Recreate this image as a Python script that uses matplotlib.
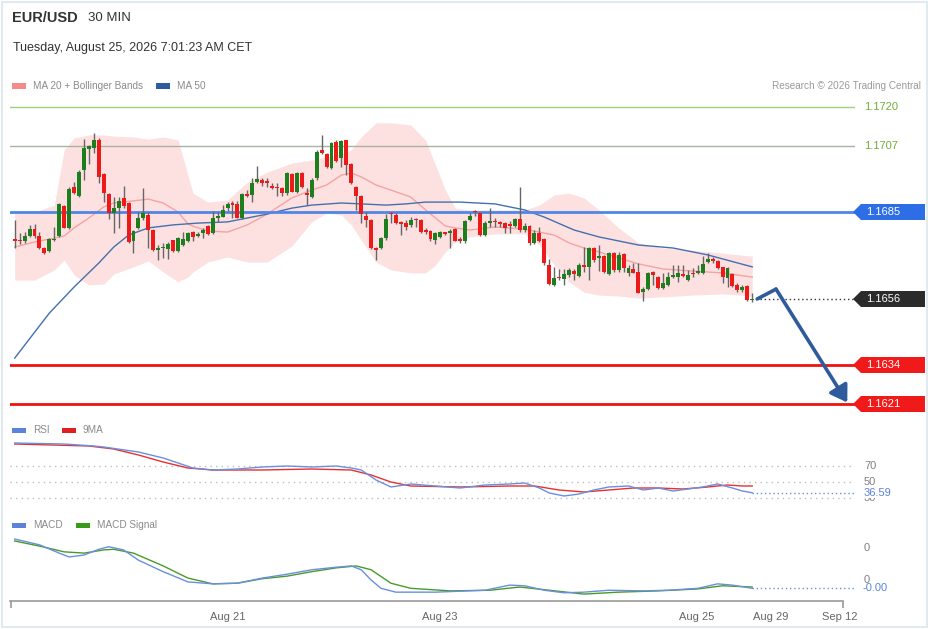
import matplotlib
matplotlib.use('Agg')
import matplotlib.pyplot as plt
from matplotlib.patches import Polygon, Rectangle, FancyArrowPatch
from matplotlib import transforms
import numpy as np

plt.rcParams['font.family'] = ['Liberation Sans', 'DejaVu Sans']

# ---------------- data ----------------
opens = [1.16760, 1.16757, 1.16753, 1.16770, 1.16793, 1.16770, 1.16730, 1.16720, 1.16757, 1.16770,
         1.16870, 1.16797, 1.16933, 1.16903, 1.16990, 1.17060, 1.17063, 1.17090, 1.16977, 1.16910,
         1.16847, 1.16863, 1.16897, 1.16880, 1.16753, 1.16797, 1.16830, 1.16840, 1.16790, 1.16723,
         1.16730, 1.16727, 1.16757, 1.16720, 1.16740, 1.16753, 1.16783, 1.16770, 1.16780, 1.16803,
         1.16780, 1.16830, 1.16833, 1.16863, 1.16880, 1.16877, 1.16830, 1.16910, 1.16907, 1.16950,
         1.16957, 1.16953, 1.16937, 1.16933, 1.16930, 1.16913, 1.16977, 1.16917, 1.16980, 1.16913,
         1.16900, 1.16963, 1.17057, 1.17043, 1.16997, 1.17083, 1.17030, 1.17090, 1.17010, 1.16933,
         1.16903, 1.16837, 1.16823, 1.16730, 1.16730, 1.16763, 1.16847, 1.16840, 1.16817, 1.16813,
         1.16807, 1.16827, 1.16823, 1.16790, 1.16787, 1.16757, 1.16767, 1.16783, 1.16780, 1.16793,
         1.16760, 1.16753, 1.16823, 1.16853, 1.16847, 1.16773, 1.16813, 1.16820, 1.16817, 1.16813,
         1.16810, 1.16803, 1.16827, 1.16790, 1.16803, 1.16747, 1.16780, 1.16760, 1.16673, 1.16607,
         1.16633, 1.16627, 1.16640, 1.16653, 1.16637, 1.16673, 1.16667, 1.16730, 1.16697, 1.16703,
         1.16643, 1.16713, 1.16657, 1.16710, 1.16647, 1.16660, 1.16650, 1.16583, 1.16593, 1.16650,
         1.16633, 1.16597, 1.16607, 1.16633, 1.16633, 1.16643, 1.16623, 1.16647, 1.16647, 1.16647,
         1.16683, 1.16693, 1.16687, 1.16667, 1.16630, 1.16643, 1.16607, 1.16590, 1.16603, 1.16557]
highs = [1.16823, 1.16780, 1.16783, 1.16807, 1.16810, 1.16783, 1.16733, 1.16763, 1.16800, 1.16880,
         1.16873, 1.16933, 1.16950, 1.16990, 1.17093, 1.17073, 1.17113, 1.17097, 1.16980, 1.16913,
         1.16900, 1.16900, 1.16937, 1.16883, 1.16790, 1.16850, 1.16930, 1.16850, 1.16793, 1.16740,
         1.16747, 1.16750, 1.16757, 1.16767, 1.16783, 1.16783, 1.16787, 1.16783, 1.16797, 1.16807,
         1.16853, 1.16850, 1.16873, 1.16883, 1.16887, 1.16887, 1.16913, 1.16923, 1.16963, 1.17003,
         1.16963, 1.16963, 1.16947, 1.16947, 1.16933, 1.16983, 1.16980, 1.16983, 1.16983, 1.16930,
         1.16963, 1.17057, 1.17107, 1.17047, 1.17083, 1.17090, 1.17090, 1.17090, 1.17013, 1.16937,
         1.16907, 1.16850, 1.16827, 1.16733, 1.16767, 1.16843, 1.16850, 1.16847, 1.16820, 1.16823,
         1.16833, 1.16830, 1.16827, 1.16797, 1.16790, 1.16783, 1.16787, 1.16783, 1.16793, 1.16797,
         1.16767, 1.16823, 1.16847, 1.16857, 1.16850, 1.16820, 1.16863, 1.16830, 1.16820, 1.16817,
         1.16820, 1.16830, 1.16933, 1.16813, 1.16807, 1.16790, 1.16800, 1.16763, 1.16693, 1.16667,
         1.16660, 1.16660, 1.16663, 1.16660, 1.16680, 1.16733, 1.16733, 1.16733, 1.16740, 1.16707,
         1.16717, 1.16717, 1.16717, 1.16713, 1.16673, 1.16680, 1.16680, 1.16600, 1.16650, 1.16653,
         1.16637, 1.16647, 1.16650, 1.16673, 1.16673, 1.16673, 1.16657, 1.16663, 1.16673, 1.16703,
         1.16713, 1.16700, 1.16690, 1.16667, 1.16667, 1.16647, 1.16613, 1.16607, 1.16607, 1.16580]
lows = [1.16730, 1.16743, 1.16747, 1.16767, 1.16763, 1.16727, 1.16710, 1.16717, 1.16753, 1.16767,
        1.16797, 1.16793, 1.16910, 1.16900, 1.16957, 1.17010, 1.17047, 1.16947, 1.16883, 1.16827,
        1.16780, 1.16797, 1.16863, 1.16747, 1.16713, 1.16793, 1.16823, 1.16730, 1.16720, 1.16690,
        1.16697, 1.16693, 1.16717, 1.16717, 1.16737, 1.16750, 1.16753, 1.16767, 1.16763, 1.16773,
        1.16777, 1.16817, 1.16833, 1.16853, 1.16830, 1.16830, 1.16827, 1.16900, 1.16883, 1.16947,
        1.16937, 1.16933, 1.16927, 1.16903, 1.16903, 1.16907, 1.16917, 1.16913, 1.16930, 1.16873,
        1.16897, 1.16957, 1.17043, 1.16997, 1.16993, 1.17017, 1.17000, 1.16973, 1.16943, 1.16857,
        1.16813, 1.16800, 1.16727, 1.16690, 1.16727, 1.16757, 1.16813, 1.16810, 1.16773, 1.16790,
        1.16800, 1.16800, 1.16780, 1.16777, 1.16753, 1.16743, 1.16763, 1.16773, 1.16730, 1.16753,
        1.16747, 1.16747, 1.16820, 1.16837, 1.16770, 1.16770, 1.16800, 1.16800, 1.16800, 1.16780,
        1.16780, 1.16800, 1.16783, 1.16783, 1.16740, 1.16743, 1.16750, 1.16673, 1.16607, 1.16603,
        1.16623, 1.16607, 1.16633, 1.16623, 1.16633, 1.16650, 1.16623, 1.16683, 1.16653, 1.16647,
        1.16640, 1.16650, 1.16650, 1.16650, 1.16637, 1.16647, 1.16580, 1.16553, 1.16590, 1.16607,
        1.16593, 1.16593, 1.16603, 1.16630, 1.16617, 1.16633, 1.16620, 1.16633, 1.16643, 1.16643,
        1.16680, 1.16680, 1.16660, 1.16613, 1.16600, 1.16600, 1.16583, 1.16583, 1.16553, 1.16550]
closes = [1.16753, 1.16753, 1.16770, 1.16793, 1.16770, 1.16730, 1.16713, 1.16760, 1.16760, 1.16877,
          1.16797, 1.16927, 1.16913, 1.16983, 1.17063, 1.17070, 1.17090, 1.16967, 1.16913, 1.16847,
          1.16863, 1.16887, 1.16870, 1.16750, 1.16787, 1.16830, 1.16847, 1.16790, 1.16723, 1.16730,
          1.16733, 1.16743, 1.16720, 1.16763, 1.16760, 1.16780, 1.16767, 1.16777, 1.16790, 1.16777,
          1.16830, 1.16837, 1.16857, 1.16877, 1.16873, 1.16830, 1.16910, 1.16903, 1.16947, 1.16960,
          1.16947, 1.16947, 1.16930, 1.16930, 1.16913, 1.16980, 1.16917, 1.16980, 1.16933, 1.16907,
          1.16957, 1.17050, 1.17047, 1.17000, 1.17080, 1.17020, 1.17087, 1.17007, 1.16947, 1.16903,
          1.16843, 1.16823, 1.16730, 1.16723, 1.16763, 1.16827, 1.16843, 1.16813, 1.16810, 1.16800,
          1.16823, 1.16823, 1.16783, 1.16783, 1.16760, 1.16780, 1.16783, 1.16777, 1.16787, 1.16753,
          1.16753, 1.16820, 1.16837, 1.16850, 1.16773, 1.16813, 1.16820, 1.16817, 1.16810, 1.16797,
          1.16803, 1.16827, 1.16790, 1.16803, 1.16747, 1.16780, 1.16753, 1.16680, 1.16610, 1.16630,
          1.16630, 1.16643, 1.16657, 1.16643, 1.16673, 1.16667, 1.16730, 1.16690, 1.16703, 1.16650,
          1.16713, 1.16657, 1.16707, 1.16663, 1.16663, 1.16647, 1.16580, 1.16593, 1.16647, 1.16640,
          1.16597, 1.16613, 1.16633, 1.16640, 1.16647, 1.16637, 1.16640, 1.16643, 1.16653, 1.16677,
          1.16693, 1.16687, 1.16663, 1.16633, 1.16663, 1.16603, 1.16590, 1.16600, 1.16557, 1.16560]

# Bollinger (20) band and MA 20
bb_idx = [0, 4, 8, 10, 12, 15, 18, 20, 24, 27, 30, 33, 35, 36, 39, 43, 47, 51, 56, 60, 63, 66, 68,
          70, 73, 76, 80, 83, 85, 87, 89, 92, 97, 103, 106, 109, 112, 115, 118, 122, 126, 131, 137,
          143, 149]
bb_upper = [1.16847, 1.16850, 1.16873, 1.17057, 1.17097, 1.17107, 1.17107, 1.17103, 1.17100, 1.17093,
            1.17100, 1.17090, 1.16973, 1.16913, 1.16883, 1.16890, 1.16950, 1.16983, 1.17013, 1.17023,
            1.17033, 1.17047, 1.17057, 1.17100, 1.17147, 1.17147, 1.17140, 1.17090, 1.17007, 1.16923,
            1.16863, 1.16857, 1.16857, 1.16857, 1.16873, 1.16907, 1.16913, 1.16897, 1.16857, 1.16797,
            1.16747, 1.16730, 1.16723, 1.16713, 1.16703]
bb_lower = [1.16623, 1.16623, 1.16657, 1.16690, 1.16640, 1.16607, 1.16610, 1.16643, 1.16667, 1.16687,
            1.16650, 1.16617, 1.16633, 1.16650, 1.16683, 1.16700, 1.16683, 1.16683, 1.16737, 1.16817,
            1.16847, 1.16840, 1.16807, 1.16757, 1.16683, 1.16657, 1.16647, 1.16647, 1.16673, 1.16717,
            1.16750, 1.16767, 1.16777, 1.16777, 1.16740, 1.16673, 1.16617, 1.16583, 1.16573, 1.16570,
            1.16563, 1.16567, 1.16573, 1.16577, 1.16570]
ma20 = [1.16733, 1.16750, 1.16763, 1.16770, 1.16797, 1.16830, 1.16867, 1.16880, 1.16887, 1.16893,
        1.16880, 1.16850, 1.16810, 1.16803, 1.16787, 1.16783, 1.16807, 1.16843, 1.16897, 1.16923,
        1.16940, 1.16973, 1.16980, 1.16967, 1.16940, 1.16923, 1.16900, 1.16857, 1.16830, 1.16803,
        1.16797, 1.16790, 1.16800, 1.16793, 1.16783, 1.16773, 1.16747, 1.16730, 1.16717, 1.16697,
        1.16677, 1.16660, 1.16653, 1.16647, 1.16633]

ma50_idx = [0, 7, 12, 17, 20, 23, 27, 32, 37, 43, 47, 51, 56, 60, 66, 70, 75, 79, 83, 90, 97, 103,
            107, 113, 118, 126, 133, 140, 149]
ma50 = [1.16363, 1.16513, 1.16600, 1.16680, 1.16733, 1.16773, 1.16797, 1.16807, 1.16813, 1.16817,
        1.16830, 1.16843, 1.16863, 1.16873, 1.16880, 1.16877, 1.16873, 1.16877, 1.16883, 1.16883,
        1.16877, 1.16857, 1.16833, 1.16790, 1.16767, 1.16740, 1.16730, 1.16707, 1.16667]

rsi_idx = [0, 10, 16, 18, 25, 30, 33, 36, 40, 45, 50, 55, 60, 65, 68, 70, 73, 76, 80, 85, 90, 95,
           100, 103, 106, 108, 111, 114, 117, 120, 124, 127, 130, 133, 136, 139, 142, 145, 147, 149]
rsi = [98.75, 97.5, 95, 93.75, 87.5, 80, 73.75, 67.5, 65, 66.25, 68.75, 70, 68.75, 70, 67.5, 65,
       52.5, 43.75, 47.5, 45, 42.5, 46.25, 47.5, 48.75, 42.5, 36.25, 32.5, 35, 40, 43.75, 45, 40,
       42.5, 38.75, 41.25, 43.75, 47.5, 42.5, 38.75, 36.59]
rsi_ma_idx = [0, 15, 20, 25, 30, 35, 40, 50, 60, 68, 72, 76, 80, 90, 100, 105, 110, 115, 120, 125,
              130, 135, 140, 144, 147, 149]
rsi_ma = [97.5, 95, 91.25, 83.75, 75, 67.5, 65, 65, 66.25, 65, 58.75, 50, 45, 43.75, 45, 45, 40,
          37.5, 40, 42.5, 42.5, 41.25, 43.75, 46.25, 45, 45]

macd_idx = [0, 5, 9, 11, 14, 17, 19, 22, 25, 30, 35, 40, 45, 50, 55, 60, 65, 68, 70, 72, 74, 77,
            85, 95, 100, 103, 107, 111, 115, 120, 127, 132, 138, 142, 145, 149]
macd = [0.00064, 0.00055, 0.00042, 0.00036, 0.00039, 0.00048, 0.00052, 0.00047, 0.00031, 0.00013,
        -0.00003, -0.00006, -0.00005, 0.00003, 0.00009, 0.00016, 0.00020, 0.00022, 0.00016, 0.0,
        -0.00013, -0.00019, -0.00019, -0.00016, -0.00008, -0.00009, -0.00016, -0.00020, -0.00019,
        -0.00016, -0.00017, -0.00016, -0.00013, -0.00006, -0.00008, -0.00013]
signal_idx = [0, 5, 10, 14, 18, 20, 24, 30, 35, 40, 45, 50, 55, 60, 65, 69, 72, 76, 80, 88, 96,
              102, 108, 115, 122, 130, 138, 143, 149]
signal = [0.00061, 0.00053, 0.00044, 0.00042, 0.00047, 0.00048, 0.00042, 0.00022, 0.00003, -0.00006,
          -0.00005, 0.00002, 0.00006, 0.00013, 0.00019, 0.00022, 0.00016, -0.00005, -0.00013,
          -0.00017, -0.00016, -0.00011, -0.00016, -0.00022, -0.00019, -0.00017, -0.00014, -0.00009,
          -0.00011]

level_prices = [1.1720, 1.1707, 1.1685, 1.1634, 1.1621]
last_price = 1.1656
forecast_idx = [150.0, 153.8, 168.2]
forecast_price = [1.16560, 1.16593, 1.16215]

tick_pos = [43.1, 85.9, 137.8, 152.8, 166.7]
tick_labels = ['Aug 21', 'Aug 23', 'Aug 25', 'Aug 29', 'Sep 12']

# ---------------- figure ----------------
W, H = 929, 629
fig = plt.figure(figsize=(W / 100, H / 100), dpi=100)
fig.patch.set_facecolor('white')

def fx(x):
    return x / W

def fy(y):
    return 1 - y / H

def add_ax(x0, y0, x1, y1):
    a = fig.add_axes([x0 / W, 1 - y1 / H, (x1 - x0) / W, (y1 - y0) / H])
    a.set_facecolor('none')
    for s in a.spines.values():
        s.set_visible(False)
    a.set_xticks([])
    a.set_yticks([])
    return a

PX0, STEP = 14.7, 4.95
def xi(px):
    return (px - PX0) / STEP

XL = (xi(10), xi(855))

# border of the card
fig.add_artist(Rectangle((fx(2), fy(627)), fx(925), 625 / H, transform=fig.transFigure,
                         fill=False, ec='#e2e9ef', lw=1.5))

# header
fig.text(fx(12), fy(18), 'EUR/USD', fontsize=10.5, fontweight='bold', color='#333333', va='center')
fig.text(fx(88), fy(18), '30 MIN', fontsize=9.5, color='#333333', va='center')
fig.text(fx(13), fy(48), 'Tuesday, August 25, 2026 7:01:23 AM CET', fontsize=9, color='#333333',
         va='center')

def legend_item(x, y, color, label):
    fig.add_artist(Rectangle((fx(x), fy(y + 2.5)), 14 / W, 5 / H, transform=fig.transFigure,
                             fc=color, ec='none'))
    fig.text(fx(x + 21), fy(y), label, fontsize=7.2, color='#8a8a8a', va='center')

legend_item(12, 86, '#f48a8a', 'MA 20 + Bollinger Bands')
legend_item(156, 86, '#2f5c9e', 'MA 50')
fig.text(fx(921), fy(86), 'Research \u00a9 2026 Trading Central', fontsize=7.2, color='#9a9a9a',
         va='center', ha='right')
legend_item(12, 430, '#5b84d8', 'RSI')
legend_item(62, 430, '#e02020', '9MA')
legend_item(12, 525, '#5b84d8', 'MACD')
legend_item(76, 525, '#3a9a1a', 'MACD Signal')

# ---------------- price panel ----------------
ax = add_ax(10, 98, 855, 415)
ax.set_xlim(*XL)
ax.set_ylim(1.1720 - 308 / 30000, 1.1720 + 9 / 30000)
ppx = (ax.get_ylim()[1] - ax.get_ylim()[0]) / 317.0

o = np.array(opens); h = np.array(highs); l = np.array(lows); c = np.array(closes)
idx = np.arange(len(c))

ax.fill_between(bb_idx, bb_lower, bb_upper, color='#fde1e1', lw=0, zorder=1)
ax.plot(bb_idx, ma20, color='#f4a3a3', lw=1, zorder=2)
ax.plot(ma50_idx, ma50, color='#4470b0', lw=1, zorder=2)

line_styles = [('#9fcf7f', 1.0), ('#aab3a2', 1.0), ('#4f86e8', 2.0), ('#f01010', 2.0), ('#f01010', 2.0)]
for p, (col, lw) in zip(level_prices, line_styles):
    ax.axhline(p, color=col, lw=lw, zorder=2.5)

ax.vlines(idx, l, h, color='#666666', lw=1, zorder=3)
up = c >= o
body_col = np.where(up, '#1c7e1c', '#ee1a1a')
bottoms = np.minimum(o, c)
heights = np.maximum(np.abs(c - o), 1.2 * ppx)
ax.bar(idx, heights, bottom=bottoms, width=0.8, color=body_col, lw=0, zorder=4)

# last price dotted line
ax.hlines(last_price, forecast_idx[0] + 0.5, XL[1], colors='#333333', linestyles=(0, (1, 2)), lw=1,
          zorder=3)

# forecast arrow
ax.plot(forecast_idx[:2], forecast_price[:2], color='#2e5b9c', lw=2.6, solid_capstyle='round',
        zorder=6)
ax.add_patch(FancyArrowPatch((forecast_idx[1], forecast_price[1]), (forecast_idx[2], forecast_price[2]),
                             arrowstyle='-|>,head_length=0.7,head_width=0.45', mutation_scale=14,
                             color='#2e5b9c', lw=2.6, zorder=6, clip_on=False,
                             shrinkA=0, shrinkB=0))

blend = transforms.blended_transform_factory(fig.transFigure, ax.transData)

def tag(price, color):
    hh = 8 * ppx
    pts = [(fx(853), price), (fx(861), price + hh), (fx(925), price + hh), (fx(925), price - hh),
           (fx(861), price - hh)]
    ax.add_patch(Polygon(pts, closed=True, transform=blend, fc=color, ec='none', clip_on=False,
                         zorder=7))
    ax.text(fx(866), price, f'{price:.4f}', transform=blend, color='white', fontsize=8,
            va='center', ha='left', zorder=8)

ax.text(fx(864), level_prices[0], f'{level_prices[0]:.4f}', transform=blend, color='#6fae3c',
        fontsize=8, va='center')
ax.text(fx(864), level_prices[1], f'{level_prices[1]:.4f}', transform=blend, color='#6fae3c',
        fontsize=8, va='center')
tag(level_prices[2], '#2d6de6')
tag(last_price, '#2b2b2b')
tag(level_prices[3], '#f01a1a')
tag(level_prices[4], '#f01a1a')

# ---------------- RSI panel ----------------
ar = add_ax(10, 438, 855, 510)
ar.set_xlim(*XL)
ar.set_ylim(15, 105)
for lv in (70, 50, 30):
    ar.axhline(lv, color='#bdbdbd', lw=1, ls=(0, (1, 3)), zorder=1)
ar.plot(rsi_ma_idx, rsi_ma, color='#e83030', lw=1, zorder=3)
ar.plot(rsi_idx, rsi, color='#6a8fe0', lw=1, zorder=3)
ar.hlines(rsi[-1], rsi_idx[-1], XL[1], colors='#6a8fe0', linestyles=(0, (1, 2)), lw=1)
rb = transforms.blended_transform_factory(fig.transFigure, ar.transData)
for lv in (70, 50, 30):
    ar.text(fx(864), lv, str(lv), transform=rb, color='#808080', fontsize=8, va='center')
ar.text(fx(864), rsi[-1], f'{rsi[-1]:.2f}', transform=rb, color='#5b84d8', fontsize=8, va='center',
        bbox=dict(fc='white', ec='none', pad=0.5))

# ---------------- MACD panel ----------------
am = add_ax(10, 532, 855, 598)
am.set_xlim(*XL)
am.set_ylim(-18 / 64000, 48 / 64000)
am.plot(signal_idx, signal, color='#4a9a28', lw=1, zorder=3)
am.plot(macd_idx, macd, color='#6a8fe0', lw=1, zorder=3)
am.hlines(macd[-1], macd_idx[-1], XL[1], colors='#6a8fe0', linestyles=(0, (1, 2)), lw=1)
mb = transforms.blended_transform_factory(fig.transFigure, am.transData)
am.text(fx(864), 0.0005, '0', transform=mb, color='#808080', fontsize=8, va='center')
am.text(fx(864), 0.0, '0', transform=mb, color='#808080', fontsize=8, va='center')
am.text(fx(863), macd[-1], f'{macd[-1]:.2f}' if macd[-1] >= 0 else '-' + f'{abs(macd[-1]):.2f}',
        transform=mb, color='#5b84d8', fontsize=8, va='center',
        bbox=dict(fc='white', ec='none', pad=0.5))

# ---------------- time axis ----------------
at = fig.add_axes([fx(10), fy(601), 845 / W, 0.0001])
at.set_facecolor('none')
at.set_xlim(*XL)
at.set_yticks([])
for s in ('top', 'left', 'right'):
    at.spines[s].set_visible(False)
at.spines['bottom'].set_color('#9a9a9a')
at.spines['bottom'].set_linewidth(1.2)
at.spines['bottom'].set_bounds(XL[0], xi(843))
at.set_xticks(tick_pos)
at.set_xticklabels(tick_labels)
at.tick_params(axis='x', which='major', length=0, pad=8, labelsize=8, labelcolor='#666666')
at.set_xticks([XL[0] + 0.15, xi(843)], minor=True)
at.tick_params(axis='x', which='minor', length=5, width=1.2, color='#9a9a9a')

fig.savefig('out.png', dpi=100, facecolor='white')
